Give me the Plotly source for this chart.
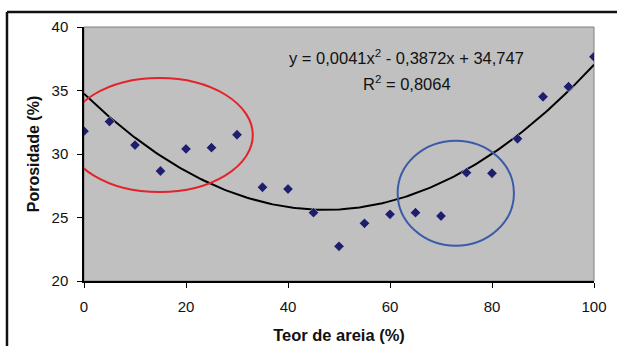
import plotly.graph_objects as go
import numpy as np

# Data
teor_areia = [0, 5, 10, 15, 20, 25, 30, 35, 40, 45, 50, 55, 60, 65, 70, 75, 80, 85, 90, 95, 100]
porosidade = [31.8, 32.55, 30.7, 28.66, 30.4, 30.5, 31.52, 27.38, 27.24, 25.38, 22.73,
              24.54, 25.25, 25.38, 25.12, 28.53, 28.48, 31.2, 34.51, 35.3, 37.66]
# Displayed trendline coefficients (a, b, c) for y = a x^2 + b x + c
trend_coef = [0.0041, -0.3872, 34.747]
x_ticks = [0, 20, 40, 60, 80, 100]
y_ticks = [20, 25, 30, 35, 40]

xs = np.linspace(0, 100, 201)
ys = np.polyval(trend_coef, xs)

FONT = "Liberation Sans, Arial"

fig = go.Figure()
fig.add_trace(go.Scatter(x=xs, y=ys, mode="lines",
                         line=dict(color="black", width=2), hoverinfo="skip"))
fig.add_trace(go.Scatter(x=teor_areia, y=porosidade, mode="markers",
                         marker=dict(symbol="diamond", size=8, color="#1e1e6a",
                                     line=dict(color="#d8d8e8", width=0.5))))

# Ellipses highlighting regions
fig.add_shape(type="circle", xref="x", yref="y", x0=-3.5, x1=33.1, y0=27.0, y1=35.98,
              line=dict(color="#e3222a", width=2))
fig.add_shape(type="circle", xref="x", yref="y", x0=61.5, x1=84.3, y0=22.78, y1=31.05,
              line=dict(color="#3b5ba9", width=2))

# Outer frame (left and top borders)
fig.add_shape(type="line", xref="paper", yref="paper", x0=-0.151, x1=-0.151, y0=-0.3, y1=1.059,
              line=dict(color="#111111", width=2.5))
fig.add_shape(type="line", xref="paper", yref="paper", x0=-0.151, x1=1.1, y0=1.059, y1=1.059,
              line=dict(color="#111111", width=2.5))
# Plot area border in gray
fig.add_shape(type="rect", xref="paper", yref="paper", x0=0, x1=1, y0=0, y1=1,
              line=dict(color="#808080", width=1), layer="below")

fig.add_annotation(x=0.633, y=0.882, xref="paper", yref="paper", showarrow=False,
                   text="y = 0,0041x<sup>2</sup> - 0,3872x + 34,747", yanchor="middle",
                   font=dict(family=FONT, size=16.5, color="#111111"))
fig.add_annotation(x=0.633, y=0.780, xref="paper", yref="paper", showarrow=False,
                   text="R<sup>2</sup> = 0,8064", yanchor="middle",
                   font=dict(family=FONT, size=16.5, color="#111111"))

fig.update_layout(
    width=617, height=346,
    margin=dict(l=84, r=23, t=27, b=65, autoexpand=False),
    paper_bgcolor="white", plot_bgcolor="#c0c0c0",
    showlegend=False,
    font=dict(family=FONT, size=15, color="#111111"),
)
fig.update_xaxes(range=[0, 100], tickvals=x_ticks, showgrid=False, zeroline=False,
                 showline=True, linecolor="black", linewidth=1.5, automargin=False,
                 ticks="outside", ticklen=5, tickcolor="black", ticklabelstandoff=6,
                 title=dict(text="<b>Teor de areia (%)</b>", standoff=16, font=dict(size=16.5)))
fig.update_yaxes(range=[20, 40], tickvals=y_ticks, showgrid=False, zeroline=False,
                 showline=True, linecolor="black", linewidth=1.5, automargin=False,
                 ticks="outside", ticklen=5, tickcolor="black", ticklabelstandoff=6,
                 title=dict(text="<b>Porosidade (%)</b>", standoff=8, font=dict(size=16)))

fig.write_html("out.html")
